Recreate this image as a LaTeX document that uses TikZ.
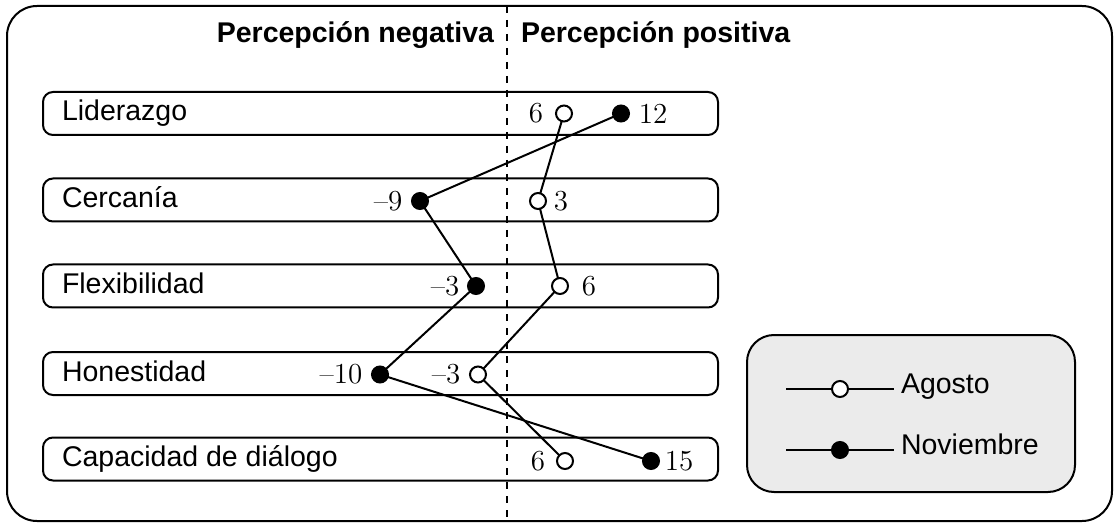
\documentclass[tikz,border=0pt]{standalone}
\usepackage{fontspec}
\newfontfamily\lsans{Liberation Sans}
\definecolor{legendgray}{HTML}{EBEBEB}
\begin{document}
\begin{tikzpicture}[x=0.5pt,y=-0.5pt,
  every node/.style={inner sep=0pt, outer sep=0pt},
  lbl/.style={font=\lsans\fontsize{14.25}{17}\selectfont, anchor=base west},
  head/.style={font=\lsans\bfseries\fontsize{14.25}{17}\selectfont},
  num/.style={font=\fontsize{14.5}{17}\selectfont},
  rowbox/.style={draw, line width=1pt, rounded corners=5pt, minimum width=337.5pt, minimum height=21.5pt},
  ptA/.style={circle, draw, fill=white, line width=1pt, minimum size=8pt},
  ptN/.style={circle, draw, fill=black, line width=1pt, minimum size=8pt},
  conn/.style={line width=1pt},
]
\useasboundingbox (0,0) rectangle (1117,523);
% outer frame
\draw[line width=1pt, rounded corners=15pt] (7,6) rectangle (1112,521);
% dashed divider
\coordinate (dtop) at (507,6);
\coordinate (dbot) at (507,523);
\draw[line width=1pt, dash pattern=on 3.5pt off 3.5pt] (dtop) -- (dbot);
% headings
\node[head, anchor=base east] (hneg) at (494,43) {Percepción negativa};
\node[head, anchor=base west] (hpos) at (521,43) {Percepción positiva};
% row boxes
\node[rowbox] (b1) at (380.5,113.5) {};
\node[rowbox] (b2) at (380.5,200) {};
\node[rowbox] (b3) at (380.5,286) {};
\node[rowbox] (b4) at (380.5,373.5) {};
\node[rowbox] (b5) at (380.5,459) {};
\node[lbl] (l1) at (62,121) {Liderazgo};
\node[lbl] (l2) at (62,207.5) {Cercanía};
\node[lbl] (l3) at (62,293.5) {Flexibilidad};
\node[lbl] (l4) at (62,381) {Honestidad};
\node[lbl] (l5) at (62,466.5) {Capacidad de diálogo};
% points: Agosto (open)
\node[ptA] (a1) at (564,113.5) {};
\node[ptA] (a2) at (538,201) {};
\node[ptA] (a3) at (560,286) {};
\node[ptA] (a4) at (478,374.5) {};
\node[ptA] (a5) at (565,461) {};
% points: Noviembre (filled)
\node[ptN] (n1) at (621,113.5) {};
\node[ptN] (n2) at (420,201) {};
\node[ptN] (n3) at (476,286) {};
\node[ptN] (n4) at (380,374.5) {};
\node[ptN] (n5) at (651,461) {};
% connectors
\draw[conn] (a1) -- (a2) -- (a3) -- (a4) -- (a5);
\draw[conn] (n1) -- (n2) -- (n3) -- (n4) -- (n5);
% value labels
\node[num] (va1) at (536,113.5) {6};
\node[num] (vn1) at (653,113.5) {12};
\node[num] (vn2) at (388,201) {\textendash 9};
\node[num] (va2) at (561,201) {3};
\node[num] (vn3) at (445,286) {\textendash 3};
\node[num] (va3) at (589,286) {6};
\node[num] (vn4) at (341,374.5) {\textendash 10};
\node[num] (va4) at (446,374.5) {\textendash 3};
\node[num] (va5) at (538,461) {6};
\node[num] (vn5) at (679,461) {15};
% legend
\node[draw, fill=legendgray, rounded corners=13.5pt, line width=1pt, minimum width=164pt, minimum height=78.5pt] (leg) at (911,413.5) {};
\coordinate (la1) at (786,389);
\coordinate (la2) at (894,389);
\coordinate (ln1) at (786,450);
\coordinate (ln2) at (894,450);
\node[ptA] (lac) at (840,389) {};
\node[ptN] (lnc) at (840,450) {};
\draw[conn] (la1) -- (lac) -- (la2);
\draw[conn] (ln1) -- (lnc) -- (ln2);
\node[font=\lsans\fontsize{14.25}{17}\selectfont, anchor=mid west] (lat) at (901,389) {Agosto};
\node[font=\lsans\fontsize{14.25}{17}\selectfont, anchor=mid west] (lnt) at (901,450) {Noviembre};
\end{tikzpicture}
\end{document}
